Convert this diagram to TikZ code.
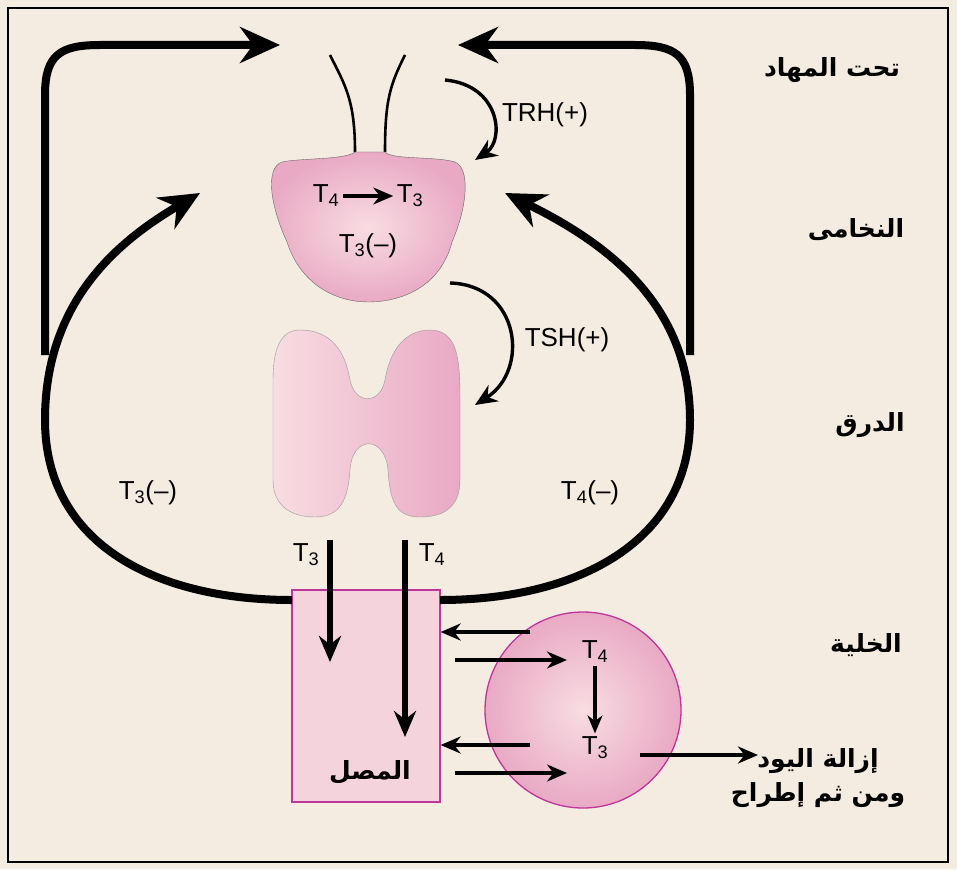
\documentclass[tikz,border=0pt]{standalone}
\usepackage{fontspec}
\setmainfont{Liberation Sans}
\newfontfamily\arabicfont[Script=Arabic]{DejaVu Sans}
\TeXXeTstate=1
\usetikzlibrary{arrows.meta,positioning}
\definecolor{bgbeige}{HTML}{F4EBE1}
\definecolor{glandpink}{HTML}{E9A9C4}
\definecolor{lightpink}{HTML}{F8DDE2}
\definecolor{boxpink}{HTML}{F5D3DC}
\definecolor{boxedge}{HTML}{C0359B}
\begin{document}
\begin{tikzpicture}
	[x=1pt,y=-1pt,
	big arrow/.style={line width=8pt,-{Stealth[length=40pt,width=36pt]}},
	mid arrow/.style={line width=6pt,-{Stealth[length=26pt,width=22pt]}},
	thin arrow/.style={line width=3.6pt,-{Stealth[length=20pt,width=17pt]}},
	hormone/.style={font=\fontsize{26}{30}\selectfont},
	place/.style={font=\arabicfont\bfseries\fontsize{25}{34}\selectfont,align=center}]
	% background and frame
	\fill[bgbeige] (0,0) rectangle (957,869);
	\draw[line width=2.5pt] (8,8) rectangle (948,862);
	
	% stalk and pituitary
	\draw[line width=2.6pt] (330,55) .. controls (345,85) and (355,100) .. (355,152);
	\draw[line width=2.6pt] (405,55) .. controls (390,85) and (385,100) .. (385,152);
	\shade[inner color=lightpink,outer color=glandpink,draw=black!60]
	(355,152) .. controls (345,160) and (300,158) .. (282,162)
	.. controls (265,168) and (270,205) .. (287,242)
	.. controls (302,288) and (340,302) .. (368,302)
	.. controls (400,302) and (440,288) .. (452,242)
	.. controls (468,205) and (470,168) .. (455,162)
	.. controls (435,156) and (392,160) .. (385,152) -- cycle;
	
	% thyroid
	\shade[left color=lightpink,right color=glandpink,draw=black!40]
	(300,330) .. controls (330,330) and (345,350) .. (350,380)
	.. controls (355,405) and (380,405) .. (385,380)
	.. controls (390,350) and (405,330) .. (430,330)
	.. controls (458,330) and (460,360) .. (460,400) -- (460,480)
	.. controls (460,510) and (440,517) .. (420,517)
	.. controls (395,517) and (390,500) .. (388,470)
	.. controls (385,435) and (352,435) .. (350,470)
	.. controls (348,500) and (340,517) .. (315,517)
	.. controls (290,517) and (273,505) .. (273,480) -- (273,380)
	.. controls (273,350) and (280,330) .. (300,330) -- cycle;
	
	% serum box and cell
	\node [draw=boxedge,line width=1.3pt,fill=boxpink,minimum width=148pt,minimum height=212pt,inner sep=0pt] (serum) at (366,696) {};
	\node [place] (serumlabel) at (370,772) {\beginR المصل\endR};
	\node [circle,draw=boxedge,line width=1.3pt,inner color=lightpink,outer color=glandpink,minimum size=196pt,inner sep=0pt] (cell) at (583,710) {};
	
	% hormone labels
	\node [hormone] (pt4) at (326,196) {T\textsubscript{4}};
	\node [hormone] (pt3) at (410,196) {T\textsubscript{3}};
	\node [hormone] (pt3m) at (368,246) {T\textsubscript{3}(--)};
	\node [hormone] (trh) at (545,115) {TRH(+)};
	\node [hormone] (tsh) at (567,340) {TSH(+)};
	\node [hormone] (lt3) at (148,493) {T\textsubscript{3}(--)};
	\node [hormone] (rt4) at (590,493) {T\textsubscript{4}(--)};
	\node [hormone] (st3) at (306,555) {T\textsubscript{3}};
	\node [hormone] (st4) at (432,555) {T\textsubscript{4}};
	\node [hormone] (ct4) at (595,652) {T\textsubscript{4}};
	\node [hormone] (ct3) at (595,748) {T\textsubscript{3}};
	
	% place labels
	\node [place] (hypo) at (832,70) {\beginR تحت المهاد\endR};
	\node [place] (pit) at (856,230) {\beginR النخامى\endR};
	\node [place] (thy) at (870,425) {\beginR الدرق\endR};
	\node [place] (celll) at (866,645) {\beginR الخلية\endR};
	\node [place] (deiod) at (818,778) {\beginR إزالة اليود\endR\\\beginR ومن ثم إطراح\endR};
	
	% coordinates for free ends
	\coordinate (hl) at (280,45);
	\coordinate (hr) at (458,45);
	\coordinate (pl) at (200,193);
	\coordinate (pr) at (505,193);
	\coordinate (bl) at (292,600);
	\coordinate (br) at (440,600);
	\coordinate (exit) at (758,755);
	
	% feedback loops
	\draw[big arrow] (45,355) -- (45,95) .. controls (45,55) and (60,45) .. (100,45) -- (hl);
	\draw[big arrow] (690,355) -- (690,95) .. controls (690,55) and (675,45) .. (635,45) -- (hr);
	\draw[big arrow] (bl) .. controls (150,600) and (45,540) .. (45,420) .. controls (45,300) and (120,240) .. (pl);
	\draw[big arrow] (br) .. controls (580,600) and (690,540) .. (690,420) .. controls (690,300) and (600,240) .. (pr);
	
	% stimulating hormones
	\draw[line width=3.4pt,-{Stealth[length=22pt,width=19pt]}] (445,80) .. controls (500,85) and (505,140) .. (475,160);
	\draw[line width=3.4pt,-{Stealth[length=22pt,width=19pt]}] (450,283) .. controls (520,285) and (530,370) .. (475,405);
	
	% conversions
	\draw[line width=4pt,-{Stealth[length=20pt,width=17pt]}] (pt4) -- (pt3);
	\draw[line width=3.4pt,-{Stealth[length=18pt,width=15pt]}] (ct4) -- (ct3);
	
	% secretion into serum
	\draw[mid arrow] (330,540) -- (330,662);
	\draw[mid arrow] (405,540) -- (405,737);
	
	% exchange with cell
	\draw[thin arrow] (530,632) -- (serum.east |- 0,632);
	\draw[thin arrow] (455,660) -- (567,660);
	\draw[thin arrow] (530,745) -- (serum.east |- 0,745);
	\draw[thin arrow] (455,773) -- (567,773);
	\draw[thin arrow] (640,755) -- (exit);
\end{tikzpicture}
\end{document}
